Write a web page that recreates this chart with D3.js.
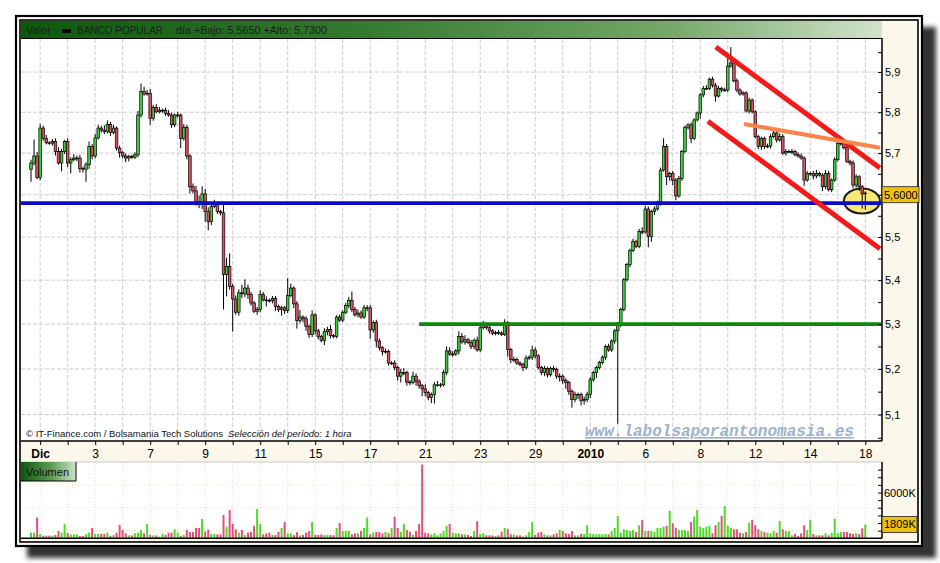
<!DOCTYPE html>
<html>
<head>
<meta charset="utf-8">
<script src="https://cdn.jsdelivr.net/npm/d3@7"></script>
<style>
  html, body { margin: 0; padding: 0; background: #ffffff; }
  #chart { width: 940px; height: 563px; }
</style>
</head>
<body>
<div id="chart"></div>
<script>
// hourly closes, Nov 30 (last 3 bars) to Jan 15
const closes = [
  5.676, 5.693, 5.641, 5.761, 5.736, 5.725, 5.724, 5.728, 5.704, 5.676,
  5.704, 5.728, 5.676, 5.684, 5.688, 5.688, 5.663, 5.661, 5.672, 5.716,
  5.693, 5.737, 5.761, 5.756, 5.752, 5.770, 5.750, 5.761, 5.712, 5.701,
  5.693, 5.688, 5.692, 5.690, 5.696, 5.793, 5.851, 5.845, 5.847, 5.785,
  5.812, 5.801, 5.805, 5.805, 5.797, 5.793, 5.769, 5.793, 5.793, 5.736,
  5.763, 5.693, 5.619, 5.609, 5.584, 5.580, 5.602, 5.560, 5.536, 5.572,
  5.576, 5.560, 5.557, 5.413, 5.432, 5.386, 5.357, 5.327, 5.371, 5.369,
  5.382, 5.367, 5.348, 5.329, 5.333, 5.367, 5.355, 5.354, 5.353, 5.358,
  5.340, 5.333, 5.337, 5.331, 5.365, 5.382, 5.346, 5.308, 5.316, 5.312,
  5.295, 5.277, 5.321, 5.285, 5.272, 5.263, 5.283, 5.288, 5.274, 5.272,
  5.316, 5.309, 5.327, 5.342, 5.354, 5.333, 5.321, 5.325, 5.316, 5.337,
  5.337, 5.287, 5.304, 5.262, 5.247, 5.238, 5.239, 5.213, 5.213, 5.203,
  5.184, 5.192, 5.192, 5.171, 5.170, 5.184, 5.173, 5.163, 5.156, 5.148,
  5.137, 5.144, 5.165, 5.165, 5.165, 5.192, 5.240, 5.233, 5.233, 5.240,
  5.272, 5.260, 5.265, 5.259, 5.250, 5.264, 5.242, 5.292, 5.297, 5.292,
  5.285, 5.279, 5.281, 5.280, 5.277, 5.303, 5.243, 5.221, 5.221, 5.213,
  5.210, 5.203, 5.224, 5.226, 5.242, 5.229, 5.203, 5.192, 5.201, 5.187,
  5.201, 5.199, 5.184, 5.184, 5.175, 5.170, 5.151, 5.133, 5.144, 5.144,
  5.130, 5.133, 5.144, 5.176, 5.192, 5.203, 5.214, 5.226, 5.250, 5.242,
  5.262, 5.285, 5.299, 5.333, 5.401, 5.436, 5.469, 5.490, 5.478, 5.513,
  5.512, 5.566, 5.501, 5.560, 5.566, 5.582, 5.659, 5.716, 5.643, 5.651,
  5.635, 5.597, 5.639, 5.704, 5.763, 5.769, 5.736, 5.781, 5.798, 5.843,
  5.859, 5.859, 5.882, 5.867, 5.840, 5.859, 5.855, 5.855, 5.915, 5.923,
  5.878, 5.855, 5.845, 5.848, 5.803, 5.830, 5.801, 5.740, 5.716, 5.736,
  5.716, 5.717, 5.740, 5.749, 5.732, 5.740, 5.700, 5.704, 5.704, 5.704,
  5.696, 5.693, 5.688, 5.635, 5.651, 5.651, 5.645, 5.651, 5.647, 5.619,
  5.651, 5.612, 5.635, 5.684, 5.724, 5.724, 5.713, 5.680, 5.676, 5.623,
  5.643, 5.619, 5.602, 5.604
];
const firstOpen = 5.661;

// wick length above / below the body, in euros
const wickUp = [
  .008, .04, .01, .01, .006, .008, .004, .006, .008, .01,
  .006, .004, .008, .006, .01, .006, .008, .004, .006, .012,
  .006, .01, .008, .006, .012, .01, .006, .008, .004, .006,
  .004, .006, .004, .004, .006, .01, .02, .012, .008, .01,
  .006, .008, .008, .004, .006, .008, .006, .004, .008, .004,
  .008, .006, .004, .008, .012, .014, .018, .012, .01, .008,
  .012, .006, .004, .02, .02, .03, .006, .008, .008, .018,
  .02, .008, .006, .004, .006, .01, .006, .008, .004, .006,
  .006, .004, .004, .004, .04, .01, .004, .006, .016, .004,
  .006, .004, .01, .004, .004, .004, .008, .006, .01, .004,
  .004, .006, .004, .006, .008, .02, .006, .008, .006, .006,
  .006, .006, .004, .006, .006, .004, .006, .004, .004, .006,
  .004, .008, .01, .004, .004, .01, .006, .004, .004, .01,
  .004, .004, .006, .008, .004, .006, .01, .008, .006, .004,
  .012, .008, .01, .004, .006, .004, .008, .008, .01, .006,
  .004, .004, .004, .006, .004, .008, .004, .004, .006, .004,
  .004, .004, .006, .004, .01, .006, .004, .004, .006, .004,
  .004, .006, .004, .006, .004, .004, .004, .004, .006, .004,
  .004, .006, .006, .006, .004, .004, .004, .004, .004, .006,
  .004, .004, .006, .004, .004, .004, .004, .006, .004, .006,
  .01, .008, .006, .004, .006, .004, .006, .02, .006, .004,
  .006, .004, .006, .004, .004, .004, .006, .004, .004, .004,
  .006, .008, .004, .006, .006, .006, .004, .006, .02, .04,
  .004, .006, .004, .004, .004, .006, .004, .004, .004, .004,
  .004, .006, .006, .008, .006, .008, .006, .006, .004, .006,
  .004, .006, .006, .004, .006, .004, .006, .008, .004, .004,
  .008, .006, .004, .006, .008, .006, .004, .004, .004, .006,
  .006, .004, .004, .004
];
const wickDown = [
  .03, .006, .004, .006, .006, .004, .004, .006, .01, .004,
  .02, .006, .01, .025, .004, .008, .01, .008, .03, .01,
  .008, .006, .004, .006, .006, .004, .008, .004, .006, .012,
  .006, .01, .008, .004, .004, .006, .006, .004, .004, .016,
  .006, .004, .004, .006, .006, .004, .008, .006, .006, .024,
  .006, .008, .016, .006, .01, .012, .014, .024, .02, .008,
  .004, .006, .006, .08, .05, .008, .074, .006, .008, .01,
  .008, .01, .006, .004, .008, .006, .004, .014, .004, .006,
  .01, .006, .014, .008, .006, .004, .01, .018, .006, .008,
  .01, .008, .006, .008, .006, .004, .01, .008, .006, .004,
  .004, .004, .004, .004, .006, .006, .004, .006, .004, .004,
  .008, .02, .006, .014, .006, .008, .004, .006, .004, .006,
  .01, .014, .006, .008, .006, .004, .01, .006, .016, .008,
  .006, .012, .02, .004, .006, .004, .006, .004, .006, .004,
  .008, .004, .006, .004, .006, .006, .004, .004, .004, .004,
  .006, .004, .004, .004, .004, .004, .016, .008, .006, .004,
  .004, .008, .004, .004, .006, .006, .004, .006, .008, .006,
  .004, .006, .006, .012, .008, .014, .008, .018, .006, .01,
  .01, .008, .006, .008, .004, .012, .004, .004, .006, .004,
  .004, .006, .205, .006, .004, .004, .006, .004, .004, .004,
  .006, .004, .025, .012, .008, .004, .008, .004, .02, .01,
  .012, .01, .004, .006, .004, .006, .012, .004, .004, .014,
  .006, .004, .004, .006, .014, .004, .006, .004, .006, .004,
  .004, .006, .004, .004, .004, .006, .004, .004, .006, .008,
  .006, .004, .006, .004, .006, .004, .004, .006, .004, .006,
  .004, .004, .004, .014, .004, .006, .008, .006, .004, .01,
  .006, .004, .006, .004, .004, .006, .004, .004, .006, .008,
  .006, .01, .035, .038
];

// volume per bar, thousands of shares
const volumes = [
  740, 740, 2710, 570, 350, 350, 350, 350, 440, 960,
  740, 1880, 700, 520, 520, 520, 300, 300, 520, 740,
  1360, 570, 570, 570, 570, 740, 300, 440, 740, 1750,
  1090, 660, 390, 390, 660, 740, 1090, 660, 1880, 440,
  390, 390, 220, 570, 440, 740, 740, 1180, 740, 300,
  440, 1090, 830, 830, 1360, 1360, 2540, 870, 1140, 570,
  570, 520, 520, 3060, 1530, 3720, 1880, 1180, 740, 1090,
  440, 740, 830, 1620, 3850, 1880, 520, 660, 740, 440,
  440, 830, 1360, 2140, 660, 660, 440, 830, 390, 440,
  740, 960, 2140, 440, 440, 520, 440, 440, 440, 390,
  1360, 2010, 960, 960, 960, 520, 660, 660, 960, 1360,
  2710, 520, 740, 830, 830, 660, 830, 660, 1360, 2840,
  1360, 830, 1880, 1090, 830, 440, 960, 1880, 9670, 740,
  660, 520, 660, 390, 660, 960, 1620, 1880, 740, 660,
  660, 520, 520, 440, 300, 960, 2230, 570, 660, 390,
  390, 390, 300, 390, 830, 1360, 1220, 520, 520, 390,
  390, 220, 390, 830, 2140, 440, 740, 830, 520, 390,
  390, 520, 660, 1090, 960, 660, 570, 960, 390, 390,
  570, 570, 1710, 660, 570, 520, 570, 520, 570, 520,
  960, 1360, 2930, 740, 1180, 1090, 960, 1090, 830, 1710,
  2410, 960, 960, 960, 830, 1360, 1360, 1530, 1620, 3590,
  1970, 1360, 1090, 1090, 1090, 960, 2140, 2840, 3720, 1530,
  1360, 1530, 1620, 660, 1710, 2140, 2930, 4240, 1620, 1360,
  1180, 1180, 740, 660, 830, 2060, 2410, 1710, 1180, 960,
  830, 740, 660, 960, 740, 2270, 1180, 960, 960, 390,
  570, 300, 660, 1710, 1090, 2410, 570, 390, 390, 390,
  660, 390, 740, 2580, 660, 830, 830, 830, 660, 570,
  660, 570, 1310, 1809
];

// trading days shown on the time axis (a label every second day)
const dayLabels = ["Dic", "2", "3", "4", "7", "8", "9", "10", "11", "14", "15",
  "16", "17", "18", "21", "22", "23", "28", "29", "30", "2010", "5", "6", "7",
  "8", "11", "12", "13", "14", "15", "18"];
const boldLabels = ["Dic", "2010"];
const barsBeforeFirstDay = 3;
const barsPerDay = 9;

const priceGrid = [5.1, 5.2, 5.3, 5.4, 5.5, 5.6, 5.7, 5.8, 5.9];
const priceTicks = [5.05, 5.1, 5.15, 5.2, 5.25, 5.3, 5.35, 5.4, 5.45, 5.5, 5.55,
  5.6, 5.65, 5.7, 5.75, 5.8, 5.85, 5.9, 5.95];
const volumeTicks = [1000, 2000, 3000, 4000, 5000, 6000, 7000, 8000, 9000];
const volumeGrid = [1000, 4000, 7000];

// drawn annotations: [bar index, price]
const supportLevel = 5.58;
const resistanceLevel = 5.30;
const resistanceFrom = 127;
const channelUpper = [[224.1, 5.963], [277.8, 5.664]];
const channelLower = [[221.5, 5.778], [277.8, 5.473]];
const orangeTrend = [[233.3, 5.771], [277.8, 5.713]];
const circleAt = [271.9, 5.585];
const lastPrice = 5.6;
const lastVolume = 1809;

document.addEventListener("DOMContentLoaded", function () {
  const width = 940;
  const height = 563;
  const plot = { left: 21, right: 882, top: 39, bottom: 441 };
  const vol = { top: 462, bottom: 538.3 };
  const font = "'Liberation Sans', Arial, sans-serif";
  const comma = (s) => s.replace(".", ",");

  const svg = d3
    .select("#chart")
    .append("svg")
    .attr("width", width)
    .attr("height", height)
    .style("display", "block");

  const defs = svg.append("defs");
  defs
    .append("filter")
    .attr("id", "shadow")
    .attr("x", "-5%")
    .attr("y", "-5%")
    .attr("width", "110%")
    .attr("height", "110%")
    .append("feGaussianBlur")
    .attr("stdDeviation", 2.5);

  const headGrad = defs.append("linearGradient").attr("id", "headGrad");
  headGrad.append("stop").attr("offset", "0%").attr("stop-color", "#0b5a0b");
  headGrad.append("stop").attr("offset", "40%").attr("stop-color", "#357a30");
  headGrad.append("stop").attr("offset", "75%").attr("stop-color", "#74a868");
  headGrad.append("stop").attr("offset", "100%").attr("stop-color", "#d2e3cc");

  const volGrad = defs.append("linearGradient").attr("id", "volGrad");
  volGrad.append("stop").attr("offset", "0%").attr("stop-color", "#0b5a0b");
  volGrad.append("stop").attr("offset", "55%").attr("stop-color", "#5d9a52");
  volGrad.append("stop").attr("offset", "100%").attr("stop-color", "#cfe3c9");

  defs
    .append("clipPath")
    .attr("id", "plotClip")
    .append("rect")
    .attr("x", plot.left)
    .attr("y", plot.top)
    .attr("width", plot.right - plot.left)
    .attr("height", plot.bottom - plot.top);

  // frame, shadow, panels
  svg
    .append("rect")
    .attr("x", 27)
    .attr("y", 27)
    .attr("width", 909)
    .attr("height", 531)
    .attr("fill", "#333333")
    .attr("filter", "url(#shadow)");

  svg
    .append("rect")
    .attr("x", 16)
    .attr("y", 16)
    .attr("width", 906)
    .attr("height", 530)
    .attr("fill", "#ffffff")
    .attr("stroke", "#000")
    .attr("stroke-width", 2.2);

  svg
    .append("rect")
    .attr("x", 20)
    .attr("y", 20)
    .attr("width", 898)
    .attr("height", 522)
    .attr("fill", "#fbf7ea")
    .attr("stroke", "#000")
    .attr("stroke-width", 1.6);

  svg
    .append("rect")
    .attr("x", plot.left)
    .attr("y", 21)
    .attr("width", plot.right - plot.left)
    .attr("height", 17)
    .attr("fill", "url(#headGrad)");

  svg
    .append("rect")
    .attr("x", plot.left)
    .attr("y", plot.top)
    .attr("width", plot.right - plot.left)
    .attr("height", plot.bottom - plot.top)
    .attr("fill", "#ffffff");

  svg
    .append("rect")
    .attr("x", plot.left)
    .attr("y", vol.top)
    .attr("width", plot.right - plot.left)
    .attr("height", vol.bottom - vol.top)
    .attr("fill", "#ffffff");

  // scales
  const xScale = d3
    .scaleLinear()
    .domain([0, closes.length - 1])
    .range([31, 31 + 3.056 * (closes.length - 1)]);

  const yScale = d3.scaleLog().domain([5.043, 5.986]).range([plot.bottom, 38]);

  const vScale = d3.scaleLinear().domain([0, 10000]).range([vol.bottom, vol.top]);

  const dayIndex = dayLabels.map((d, k) => barsBeforeFirstDay + barsPerDay * k);

  // grid
  const grid = svg.append("g");
  grid
    .selectAll(".vgrid")
    .data(dayIndex)
    .enter()
    .append("line")
    .attr("x1", (d) => xScale(d))
    .attr("x2", (d) => xScale(d))
    .attr("y1", plot.top)
    .attr("y2", plot.bottom)
    .attr("stroke", "#cfcbd2")
    .attr("stroke-dasharray", "4,2");

  grid
    .selectAll(".hgrid")
    .data(priceGrid)
    .enter()
    .append("line")
    .attr("x1", plot.left)
    .attr("x2", plot.right)
    .attr("y1", (d) => yScale(d))
    .attr("y2", (d) => yScale(d))
    .attr("stroke", "#cfcbd2")
    .attr("stroke-dasharray", "4,2");

  grid
    .selectAll(".vvgrid")
    .data(dayIndex)
    .enter()
    .append("line")
    .attr("x1", (d) => xScale(d))
    .attr("x2", (d) => xScale(d))
    .attr("y1", vol.top)
    .attr("y2", vol.bottom)
    .attr("stroke", "#f3d2df")
    .attr("stroke-dasharray", "1,2");

  grid
    .selectAll(".vhgrid")
    .data(volumeGrid)
    .enter()
    .append("line")
    .attr("x1", plot.left)
    .attr("x2", plot.right)
    .attr("y1", (d) => vScale(d))
    .attr("y2", (d) => vScale(d))
    .attr("stroke", "#efe6a8")
    .attr("stroke-dasharray", "1,2");

  // candles
  const bars = closes.map((c, i) => {
    const open = i === 0 ? firstOpen : closes[i - 1];
    return {
      i: i,
      open: open,
      close: c,
      high: Math.max(open, c) + wickUp[i],
      low: Math.min(open, c) - wickDown[i],
      vol: volumes[i],
      up: c >= open,
    };
  });

  const plotG = svg.append("g").attr("clip-path", "url(#plotClip)");

  plotG
    .append("ellipse")
    .attr("cx", xScale(circleAt[0]))
    .attr("cy", yScale(circleAt[1]))
    .attr("rx", 18)
    .attr("ry", 12.5)
    .attr("fill", "#f8e878")
    .attr("stroke", "#1a1a1a")
    .attr("stroke-width", 2);

  const candle = plotG
    .selectAll(".candle")
    .data(bars)
    .enter()
    .append("g")
    .attr("class", "candle");

  candle
    .append("line")
    .attr("x1", (d) => xScale(d.i))
    .attr("x2", (d) => xScale(d.i))
    .attr("y1", (d) => yScale(d.high))
    .attr("y2", (d) => yScale(d.low))
    .attr("stroke", "#000")
    .attr("stroke-width", 1);

  candle
    .append("rect")
    .attr("x", (d) => xScale(d.i) - 1.3)
    .attr("width", 2.6)
    .attr("y", (d) => yScale(Math.max(d.open, d.close)))
    .attr("height", (d) =>
      Math.max(0.8, yScale(Math.min(d.open, d.close)) - yScale(Math.max(d.open, d.close)))
    )
    .attr("fill", (d) => (d.up ? "#3ccf3c" : "#dd4f62"))
    .attr("stroke", "#000")
    .attr("stroke-width", 0.7);

  // hand drawn lines
  const line = d3
    .line()
    .x((d) => xScale(d[0]))
    .y((d) => yScale(d[1]));

  plotG
    .append("line")
    .attr("x1", plot.left)
    .attr("x2", plot.right - 1)
    .attr("y1", yScale(supportLevel))
    .attr("y2", yScale(supportLevel))
    .attr("stroke", "#0a0ac8")
    .attr("stroke-width", 3.8);

  plotG
    .append("line")
    .attr("x1", xScale(resistanceFrom))
    .attr("x2", plot.right - 1)
    .attr("y1", yScale(resistanceLevel))
    .attr("y2", yScale(resistanceLevel))
    .attr("stroke", "#0b870b")
    .attr("stroke-width", 3.6);

  [channelUpper, channelLower].forEach((pts) => {
    plotG
      .append("path")
      .attr("d", line(pts))
      .attr("fill", "none")
      .attr("stroke", "#f41a1a")
      .attr("stroke-width", 5);
  });

  plotG
    .append("path")
    .attr("d", line(orangeTrend))
    .attr("fill", "none")
    .attr("stroke", "#fb8448")
    .attr("stroke-width", 4);

  // texts inside the price panel
  svg
    .append("text")
    .attr("x", 585)
    .attr("y", 436)
    .attr("font-family", "'Liberation Mono', 'DejaVu Sans Mono', monospace")
    .attr("font-size", 16)
    .attr("font-weight", "bold")
    .attr("font-style", "italic")
    .attr("text-decoration", "underline")
    .attr("fill", "#9db2cf")
    .text("www.labolsaporantonomasia.es");

  svg
    .append("text")
    .attr("x", 26)
    .attr("y", 437)
    .attr("font-family", font)
    .attr("font-size", 9.5)
    .attr("fill", "#111")
    .text("\u00a9 IT-Finance.com / Bolsamania Tech Solutions");
  svg
    .append("text")
    .attr("x", 228)
    .attr("y", 437)
    .attr("font-family", font)
    .attr("font-size", 9.5)
    .attr("font-style", "italic")
    .attr("fill", "#111")
    .text("Selección del período: 1 hora");

  // volume bars
  svg
    .append("g")
    .selectAll("rect")
    .data(bars)
    .enter()
    .append("rect")
    .attr("x", (d) => xScale(d.i) - 1)
    .attr("width", 2)
    .attr("y", (d) => vScale(d.vol))
    .attr("height", (d) => vScale(0) - vScale(d.vol))
    .attr("fill", (d) => (d.up ? "#4fd82b" : "#e2507a"));

  // panel borders
  svg
    .append("line")
    .attr("x1", plot.left)
    .attr("x2", plot.right)
    .attr("y1", 38.5)
    .attr("y2", 38.5)
    .attr("stroke", "#000")
    .attr("stroke-width", 1.2);
  svg
    .append("line")
    .attr("x1", plot.left)
    .attr("x2", plot.right)
    .attr("y1", plot.bottom)
    .attr("y2", plot.bottom)
    .attr("stroke", "#000")
    .attr("stroke-width", 1.5);
  svg
    .append("line")
    .attr("x1", plot.right)
    .attr("x2", plot.right)
    .attr("y1", 38)
    .attr("y2", plot.bottom)
    .attr("stroke", "#000")
    .attr("stroke-width", 1.5);
  svg
    .append("line")
    .attr("x1", plot.left)
    .attr("x2", plot.right)
    .attr("y1", vol.top)
    .attr("y2", vol.top)
    .attr("stroke", "#c9c9c9");
  svg
    .append("line")
    .attr("x1", plot.right)
    .attr("x2", plot.right)
    .attr("y1", vol.top)
    .attr("y2", vol.bottom)
    .attr("stroke", "#000")
    .attr("stroke-width", 1.5);
  svg
    .append("line")
    .attr("x1", plot.left)
    .attr("x2", plot.right)
    .attr("y1", vol.bottom)
    .attr("y2", vol.bottom)
    .attr("stroke", "#000")
    .attr("stroke-width", 1.5);

  // price axis (right); the 5,6 level sits under the last-price tag
  const yAxis = d3
    .axisRight(yScale)
    .tickValues(priceTicks)
    .tickSize(-4)
    .tickPadding(3)
    .tickFormat((d) =>
      priceGrid.includes(d) && d !== lastPrice ? comma(d3.format(".1f")(d)) : ""
    );

  const gy = svg
    .append("g")
    .attr("transform", `translate(${plot.right},0)`)
    .call(yAxis);
  gy.select(".domain").remove();
  gy.selectAll("line").attr("stroke", "#000");
  gy.selectAll("text")
    .attr("font-family", font)
    .attr("font-size", 11)
    .attr("fill", "#000");

  const vAxis = d3
    .axisRight(vScale)
    .tickValues(volumeTicks)
    .tickSize(-4)
    .tickPadding(2)
    .tickFormat((d) => (d === 6000 ? d + "K" : ""));

  const gv = svg
    .append("g")
    .attr("transform", `translate(${plot.right},0)`)
    .call(vAxis);
  gv.select(".domain").remove();
  gv.selectAll("line").attr("stroke", "#000");
  gv.selectAll("text")
    .attr("font-family", font)
    .attr("font-size", 11)
    .attr("fill", "#000");

  // time axis
  const xAxis = d3
    .axisBottom(xScale)
    .tickValues(dayIndex)
    .tickSize(4)
    .tickPadding(4)
    .tickFormat((d, k) => (k % 2 === 0 ? dayLabels[k] : ""));

  const gx = svg
    .append("g")
    .attr("transform", `translate(0,${plot.bottom})`)
    .call(xAxis);
  gx.select(".domain").remove();
  gx.selectAll("line").attr("stroke", "#000");
  gx.selectAll("text")
    .attr("font-family", font)
    .attr("font-size", 12)
    .attr("fill", "#000")
    .attr("font-weight", (d, k) => (boldLabels.includes(dayLabels[k]) ? "bold" : "normal"));

  // last value tags
  const tag = (yPos, w, label) => {
    svg
      .append("rect")
      .attr("x", plot.right)
      .attr("y", yPos - 8)
      .attr("width", w)
      .attr("height", 16)
      .attr("fill", "#efbf12")
      .attr("stroke", "#222")
      .attr("stroke-width", 0.8);
    svg
      .append("text")
      .attr("x", plot.right + 2)
      .attr("y", yPos + 4)
      .attr("font-family", font)
      .attr("font-size", 11)
      .attr("fill", "#000")
      .text(label);
  };
  tag(yScale(lastPrice), 37, comma(d3.format(".4f")(lastPrice)));
  tag(vScale(lastVolume), 35, lastVolume + "K");

  // header
  const head = svg
    .append("g")
    .attr("font-family", font)
    .attr("font-size", 11)
    .attr("fill", "#1c1c1c");
  head
    .append("text")
    .attr("x", 26)
    .attr("y", 34)
    .attr("textLength", 25)
    .attr("lengthAdjust", "spacing")
    .text("Valor");
  head
    .append("rect")
    .attr("x", 62)
    .attr("y", 29)
    .attr("width", 9)
    .attr("height", 4)
    .attr("fill", "#000");
  head
    .append("text")
    .attr("x", 77)
    .attr("y", 34)
    .attr("textLength", 86)
    .attr("lengthAdjust", "spacingAndGlyphs")
    .text("BANCO POPULAR");
  head
    .append("text")
    .attr("x", 176)
    .attr("y", 34)
    .attr("textLength", 151)
    .attr("lengthAdjust", "spacingAndGlyphs")
    .text("día +Bajo: 5,5650 +Alto: 5,7300");

  // volume label
  svg
    .append("rect")
    .attr("x", plot.left)
    .attr("y", vol.top)
    .attr("width", 55)
    .attr("height", 19)
    .attr("fill", "url(#volGrad)");
  svg
    .append("path")
    .attr("d", `M${plot.left + 55},${vol.top}V${vol.top + 19}H${plot.left}`)
    .attr("fill", "none")
    .attr("stroke", "#000")
    .attr("stroke-width", 1);
  svg
    .append("text")
    .attr("x", 26)
    .attr("y", vol.top + 14)
    .attr("font-family", font)
    .attr("font-size", 11)
    .attr("textLength", 43)
    .attr("lengthAdjust", "spacing")
    .attr("fill", "#111")
    .text("Volumen");
});
</script>
</body>
</html>
